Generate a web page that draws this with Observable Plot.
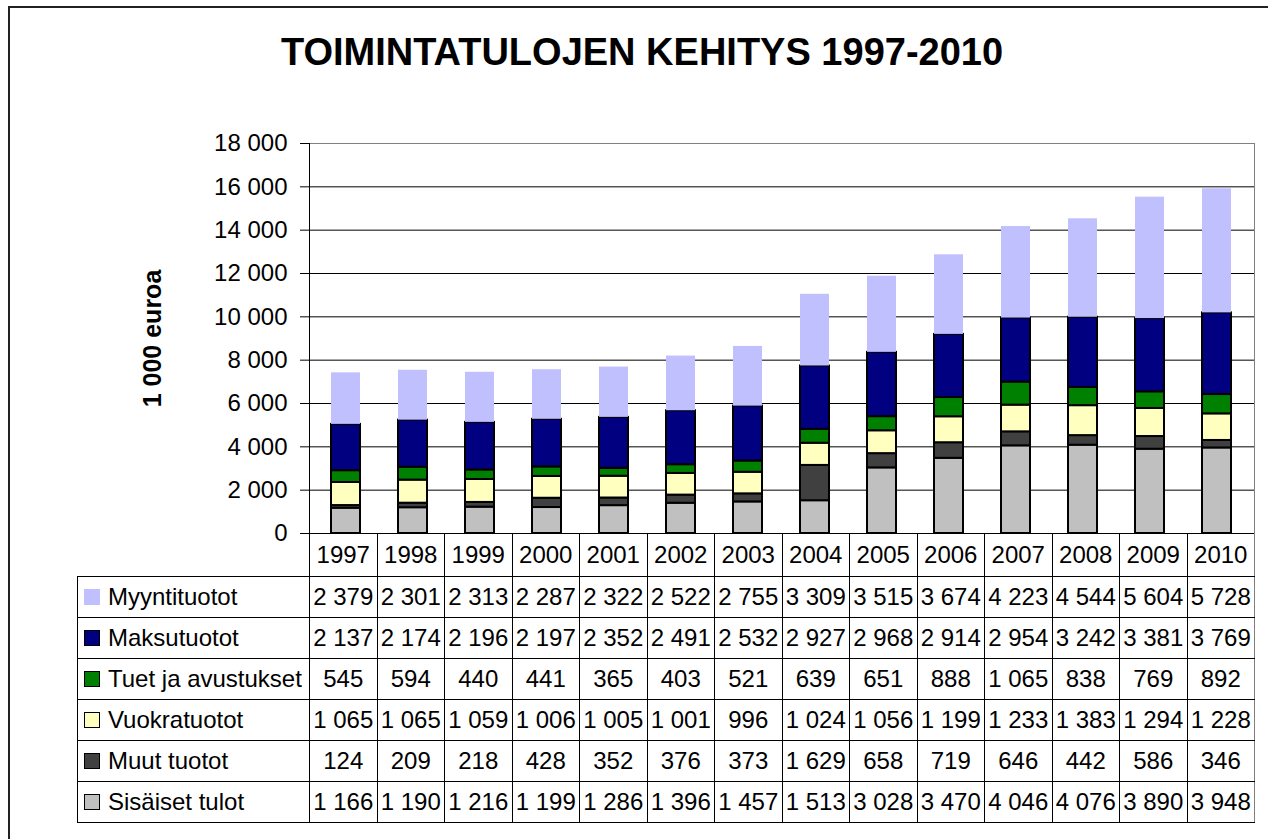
<!DOCTYPE html>
<html>
<head>
<meta charset="utf-8">
<script src="https://cdn.jsdelivr.net/npm/d3@7"></script>
<script src="https://cdn.jsdelivr.net/npm/@observablehq/plot@0.6"></script>
<style>
  html, body { margin: 0; padding: 0; background: #fff; }
  body { width: 1268px; height: 839px; overflow: hidden; font-family: "Liberation Sans", Arial, sans-serif; }
  #wrap { position: relative; width: 1268px; height: 839px; }
  #outer { position: absolute; left: 8px; top: 6px; width: 1400px; height: 1000px; border: 2px solid #222; box-sizing: border-box; }
  #title { position: absolute; left: 0; top: 33px; width: 1268px; text-align: center; font-weight: bold; font-size: 38px; line-height: 38px; padding-left: 16px; box-sizing: border-box; color: #000; white-space: nowrap; }
  #chart { position: absolute; left: 0; top: 0; }
  #tbl { position: absolute; left: 77px; top: 533px; border-collapse: collapse; table-layout: fixed; font-size: 24px; color: #000; }
  #tbl td { border: 1px solid #000; padding: 0; text-align: center; white-space: nowrap; overflow: hidden; }
  #tbl tr.head td { height: 43px; border-top: none; }
  #tbl tr.head td.lab { border-left: none; border-bottom: 1px solid #000; }
  #tbl tr.row td { height: 40px; }
  #tbl td.lab { text-align: left; padding-left: 6px; }
  #tbl td.last { border-right: 1px solid #808080; }
  .key { display: inline-block; width: 14px; height: 14px; border: 1px solid #000; margin-right: 8px; vertical-align: 0px; }
</style>
</head>
<body>
<div id="wrap">
  <div id="outer"></div>
  <div id="chart"></div>
  <div id="title">TOIMINTATULOJEN KEHITYS 1997-2010</div>
</div>
<script>
// ---- data ----
const years = [1997, 1998, 1999, 2000, 2001, 2002, 2003, 2004, 2005, 2006, 2007, 2008, 2009, 2010];
const myyntituotot = [2379, 2301, 2313, 2287, 2322, 2522, 2755, 3309, 3515, 3674, 4223, 4544, 5604, 5728];
const maksutuotot  = [2137, 2174, 2196, 2197, 2352, 2491, 2532, 2927, 2968, 2914, 2954, 3242, 3381, 3769];
const tuetJaAvustukset = [545, 594, 440, 441, 365, 403, 521, 639, 651, 888, 1065, 838, 769, 892];
const vuokratuotot = [1065, 1065, 1059, 1006, 1005, 1001, 996, 1024, 1056, 1199, 1233, 1383, 1294, 1228];
const muutTuotot   = [124, 209, 218, 428, 352, 376, 373, 1629, 658, 719, 646, 442, 586, 346];
const sisaisetTulot = [1166, 1190, 1216, 1199, 1286, 1396, 1457, 1513, 3028, 3470, 4046, 4076, 3890, 3948];
// table order (top to bottom)
const seriesNames = ["Myyntituotot", "Maksutuotot", "Tuet ja avustukset", "Vuokratuotot", "Muut tuotot", "Sisäiset tulot"];
const seriesValues = [myyntituotot, maksutuotot, tuetJaAvustukset, vuokratuotot, muutTuotot, sisaisetTulot];
const seriesColors = ["#C0C0FF", "#000080", "#008000", "#FFFFC0", "#404040", "#C0C0C0"];
const yTicks = [0, 2000, 4000, 6000, 8000, 10000, 12000, 14000, 16000, 18000];
const yLabel = "1 000 euroa";

// ---- build ----
const fi = d3.formatLocale({decimal: ",", thousands: " ", grouping: [3], currency: ["", " €"]});
const fmt = fi.format(",d");

const stackOrder = seriesNames.slice().reverse(); // bottom-up
const data = [];
for (const name of stackOrder) {
  const vals = seriesValues[seriesNames.indexOf(name)];
  years.forEach((yr, i) => data.push({year: yr, series: name, value: vals[i]}));
}

const chart = Plot.plot({
  width: 1268,
  height: 570,
  marginTop: 143,
  marginBottom: 37,
  marginLeft: 309,
  marginRight: 14,
  style: {fontFamily: '"Liberation Sans", Arial, sans-serif', color: "#000", background: "transparent", overflow: "visible"},
  x: {domain: years, paddingInner: 0.56, paddingOuter: 0.28, axis: null},
  y: {domain: [0, 18000]},
  color: {domain: seriesNames, range: seriesColors},
  marks: [
    Plot.gridY(yTicks, {stroke: "#000", strokeOpacity: 1}),
    Plot.frame({stroke: "#808080"}),
    Plot.barY(data, Plot.stackY({
      x: "year", y: "value", fill: "series", order: stackOrder,
      stroke: "#000",
      strokeWidth: d => d.series === "Myyntituotot" ? 0 : 2
    })),
    Plot.frame({anchor: "left", stroke: "#000"}),
    Plot.ruleY([0], {stroke: "#000"}),
    Plot.axisY(yTicks, {tickSize: 9, tickPadding: 13, fontSize: 24, tickFormat: fmt, label: null, stroke: "#000"}),
    Plot.text([yLabel], {text: d => d, frameAnchor: "left", textAnchor: "middle", rotate: -90, dx: -157, fontSize: 25, fontWeight: "bold", fill: "#000"})
  ]
});
document.getElementById("chart").appendChild(chart);

// ---- data table ----
const tbl = document.createElement("table");
tbl.id = "tbl";
const colgroup = document.createElement("colgroup");
const c0 = document.createElement("col"); c0.style.width = "232px"; colgroup.appendChild(c0);
const colW = (1254 - 309) / years.length;
years.forEach(() => { const c = document.createElement("col"); c.style.width = colW + "px"; colgroup.appendChild(c); });
tbl.appendChild(colgroup);
tbl.style.width = (232 + colW * years.length) + "px";

const head = document.createElement("tr"); head.className = "head";
const h0 = document.createElement("td"); h0.className = "lab"; head.appendChild(h0);
years.forEach((yr, i) => {
  const td = document.createElement("td"); td.textContent = yr;
  if (i === years.length - 1) td.className = "last";
  head.appendChild(td);
});
tbl.appendChild(head);

seriesNames.forEach((name, si) => {
  const tr = document.createElement("tr"); tr.className = "row";
  const lab = document.createElement("td"); lab.className = "lab";
  const key = document.createElement("span"); key.className = "key";
  key.style.background = seriesColors[si];
  if (name === "Myyntituotot") key.style.borderColor = seriesColors[si];
  lab.appendChild(key);
  lab.appendChild(document.createTextNode(name));
  tr.appendChild(lab);
  seriesValues[si].forEach((v, i) => {
    const td = document.createElement("td"); td.textContent = fmt(v);
    if (i === years.length - 1) td.className = "last";
    tr.appendChild(td);
  });
  tbl.appendChild(tr);
});
document.getElementById("wrap").appendChild(tbl);
</script>
</body>
</html>
